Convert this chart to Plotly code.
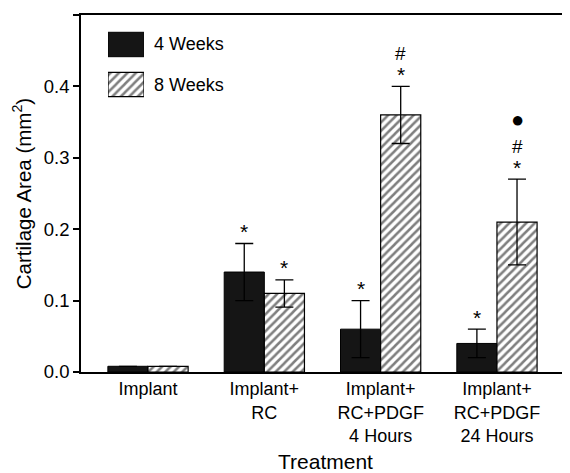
import plotly.graph_objects as go

categories = ["Implant", "Implant+<br>RC", "Implant+<br>RC+PDGF<br>4 Hours",
              "Implant+<br>RC+PDGF<br>24 Hours"]
weeks4 = [0.008, 0.14, 0.06, 0.04]
weeks4_err = [0.0, 0.04, 0.04, 0.02]
weeks8 = [0.008, 0.11, 0.36, 0.21]
weeks8_err = [0.0, 0.019, 0.04, 0.06]
# significance marks (bottom to top) for each bar
marks4 = [[], ["*"], ["*"], ["*"]]
marks8 = [[], ["*"], ["*", "#"], ["*", "#", "●"]]
legend_names = ["4 Weeks", "8 Weeks"]

FONT = "Liberation Sans, Arial, sans-serif"
HATCH = dict(shape="/", fgcolor="black", bgcolor="white", size=6, solidity=0.42)

fig = go.Figure()
fig.add_trace(go.Bar(
    x=categories, y=weeks4, name=legend_names[0],
    marker=dict(color="#151515", line=dict(color="black", width=1)),
    error_y=dict(type="data", array=weeks4_err, symmetric=True, visible=True,
                 color="black", thickness=1.3, width=9),
    showlegend=False))
fig.add_trace(go.Bar(
    x=categories, y=weeks8, name=legend_names[1],
    marker=dict(color="white", pattern=HATCH, line=dict(color="black", width=1.2)),
    error_y=dict(type="data", array=weeks8_err, symmetric=True, visible=True,
                 color="black", thickness=1.3, width=9),
    showlegend=False))

# hand-drawn legend with large swatches on a small auxiliary axis
fig.add_trace(go.Bar(x=[1], y=[0], orientation="h", width=0.61, xaxis="x2", yaxis="y2",
                     marker=dict(color="#151515", line=dict(color="black", width=1)),
                     showlegend=False, hoverinfo="skip"))
fig.add_trace(go.Bar(x=[1], y=[1], orientation="h", width=0.61, xaxis="x2", yaxis="y2",
                     marker=dict(color="white", pattern=HATCH, line=dict(color="black", width=1.2)),
                     showlegend=False, hoverinfo="skip"))

annotations = []
offsets = [-0.1725, 0.1725]
shifts = {"*": 12, "#": 33, "●": 60}
sizes = {"*": 21, "#": 19, "●": 22}
for series, (vals, errs, marks) in enumerate([(weeks4, weeks4_err, marks4),
                                               (weeks8, weeks8_err, marks8)]):
    for i, (v, e, ms) in enumerate(zip(vals, errs, marks)):
        for m in ms:
            annotations.append(dict(
                x=i + offsets[series], y=v + e, xref="x", yref="y", text=m,
                showarrow=False, yanchor="middle", xanchor="center", yshift=shifts[m],
                font=dict(family=FONT, size=sizes[m], color="black")))

legend_y = [0.9174, 0.8053]
for name, ly in zip(legend_names, legend_y):
    annotations.append(dict(x=0.1452, y=ly, xref="paper", yref="paper", text=name,
                            showarrow=False, xanchor="left", yanchor="middle",
                            font=dict(family=FONT, size=18, color="black")))

# the page adds an 8px body margin, so the figure is laid out 8px smaller/shifted
fig.update_layout(
    width=562, height=465,
    margin=dict(l=73, r=0, t=7, b=101),
    paper_bgcolor="white", plot_bgcolor="white",
    barmode="group", bargap=0.31, bargroupgap=0,
    font=dict(family=FONT, size=18, color="black"),
    annotations=annotations,
    xaxis=dict(range=[-0.576, 3.628], showline=True, linecolor="black", linewidth=1.5,
               mirror=True, ticks="", showgrid=False, zeroline=False,
               tickfont=dict(size=18),
               title=dict(text="Treatment", font=dict(size=21), standoff=10)),
    yaxis=dict(range=[0, 0.5], dtick=0.1, tickformat=".1f", showline=True,
               linecolor="black", linewidth=1.5, ticks="outside", ticklen=6,
               tickwidth=1.5, tickcolor="black", showgrid=False, zeroline=False,
               tickfont=dict(size=18.5),
               title=dict(text="Cartilage Area (mm<sup>2</sup>)", font=dict(size=20.5),
                          standoff=7)),
    xaxis2=dict(domain=[0.0552, 0.1288], range=[0, 1], anchor="y2", visible=False,
                fixedrange=True),
    yaxis2=dict(domain=[0.7493, 0.9734], range=[1.5, -0.5], anchor="x2", visible=False,
                fixedrange=True),
)

fig.write_html("out.html")
